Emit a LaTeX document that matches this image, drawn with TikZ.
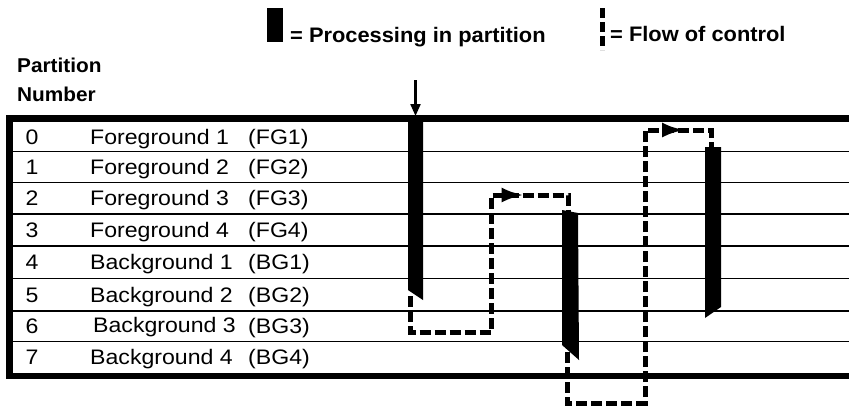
\documentclass[tikz,border=0pt]{standalone}
\usepackage{fontspec}
\setmainfont{Liberation Sans}[FakeStretch=1.1]
\newfontfamily\headfont{Liberation Sans}[FakeStretch=1.04]
\usetikzlibrary{arrows.meta,decorations.markings}

\tikzset{
  rowtext/.style={anchor=base west,inner sep=0pt,font=\fontsize{21}{24}\selectfont},
  rownum/.style={anchor=base,inner sep=0pt,font=\fontsize{21}{24}\selectfont},
  headtext/.style={anchor=base west,inner sep=0pt,font=\headfont\bfseries\fontsize{21}{24}\selectfont},
  frame/.style={line width=6.5pt,line join=miter},
  rule/.style={line width=1.4pt},
  flow/.style={line width=5pt,dash pattern=on 11pt off 4pt},
  flowtip/.style={postaction={decorate},
    decoration={markings,mark=at position #1 with {\arrow{Latex[length=23pt,width=15pt]}}}},
  entry/.style={line width=2.2pt,-{Triangle[length=12pt,width=10pt]}}
}

\begin{document}
\begin{tikzpicture}[x=1pt,y=-1pt]
\useasboundingbox (0,0) rectangle (849,410);

% legend
\fill (267,8) rectangle (283,42);
\node[headtext] (legproc) at (290,42) {= Processing in partition};
\draw[flow,dash pattern=on 10pt off 4pt] (602.5,8) -- (602.5,50);
\node[headtext] (legflow) at (610,41) {= Flow of control};

\node[headtext,font=\headfont\bfseries\fontsize{20}{24}\selectfont] (head1) at (17,72.5) {Partition};
\node[headtext,font=\headfont\bfseries\fontsize{20}{24}\selectfont] (head2) at (17,101.5) {Number};

% table
\foreach \y in {151.5,182.7,214,246,278.3,311,341.7}
  \draw[rule] (12,\y) -- (849,\y);
\draw[frame] (849,118.5) -- (9.5,118.5) -- (9.5,376) -- (849,376);

\node[rownum] (n0) at (32,144) {0};
\node[rowtext] (l0) at (90,144) {Foreground 1};
\node[rowtext] (a0) at (248,144) {(FG1)};
\node[rownum] (n1) at (32,174.5) {1};
\node[rowtext] (l1) at (90,174.5) {Foreground 2};
\node[rowtext] (a1) at (248,174.5) {(FG2)};
\node[rownum] (n2) at (32,205.8) {2};
\node[rowtext] (l2) at (90,205.8) {Foreground 3};
\node[rowtext] (a2) at (248,205.8) {(FG3)};
\node[rownum] (n3) at (32,237.5) {3};
\node[rowtext] (l3) at (90,237.5) {Foreground 4};
\node[rowtext] (a3) at (248,237.5) {(FG4)};
\node[rownum] (n4) at (32,269.6) {4};
\node[rowtext] (l4) at (90,269.6) {Background 1};
\node[rowtext] (a4) at (248,269.6) {(BG1)};
\node[rownum] (n5) at (32,302) {5};
\node[rowtext] (l5) at (90,302) {Background 2};
\node[rowtext] (a5) at (248,302) {(BG2)};
\node[rownum] (n6) at (32,333.8) {6};
\node[rowtext] (l6) at (93,332.5) {Background 3};
\node[rowtext] (a6) at (248,333.8) {(BG3)};
\node[rownum] (n7) at (32,364.6) {7};
\node[rowtext] (l7) at (90,364.6) {Background 4};
\node[rowtext] (a7) at (248,364.6) {(BG4)};

% processing bars
\fill (408,116) -- (423,116) -- (423,300) -- (408,290) -- cycle;
\fill (562,210) -- (578,213) -- (579,360) -- (562,345) -- cycle;
\fill (705,147) -- (721,147) -- (721,307) -- (705,318) -- cycle;

\coordinate (start) at (415.5,80);
\coordinate (b1top) at (415.5,116);
\coordinate (b1out) at (410.5,296);
\coordinate (b2in) at (568,212);
\coordinate (b2out) at (567,352);
\coordinate (b3in) at (711,148);

% flow of control
\draw[entry] (start) -- (b1top);
\draw[flow,flowtip=287pt] (b1out) -- (410.5,332) -- (491,332) -- (491,195) -- (568,195) -- (b2in);
\draw[flow,flowtip=442pt] (b2out) -- (567,403) -- (645,403) -- (645,130) -- (711,130) -- (b3in);
\end{tikzpicture}
\end{document}
